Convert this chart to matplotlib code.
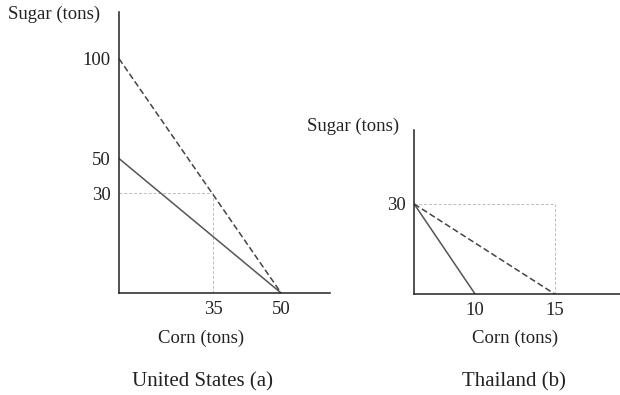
import numpy as np
import matplotlib
matplotlib.use("Agg")
import matplotlib.pyplot as plt

plt.rcParams['font.family'] = ['Liberation Serif', 'DejaVu Serif']

# United States (a): corn (x) vs sugar (y)
us_ppf_corn = [0, 50]
us_ppf_sugar = [50, 0]
us_trade_corn = [0, 50]
us_trade_sugar = [100, 0]
us_point = (35, 30)
us_xticks = [35, 50]
us_yticks = [30, 50, 100]

# Thailand (b)
th_ppf_corn = [0, 10]
th_ppf_sugar = [30, 0]
th_trade_corn = [0, 15]
th_trade_sugar = [30, 0]
th_point = (15, 30)
th_xticks = [10, 15]
th_yticks = [30]

# the original is drawn "not to scale": piecewise scales mimic the sketch
us_x_breaks = ([0, 35, 50, 65], [0, 29, 50, 65])
us_y_breaks = ([0, 30, 50, 100, 120], [0, 42.5, 57.4, 100, 120])
th_x_breaks = ([0, 10, 15, 22], [0, 6.5, 15, 22])


def piecewise(breaks):
    v, d = breaks
    fwd = lambda a: np.interp(a, v, d)
    inv = lambda a: np.interp(a, d, v)
    return fwd, inv


def style(ax, xticks, yticks):
    for s in ['top', 'right']:
        ax.spines[s].set_visible(False)
    for s in ['left', 'bottom']:
        ax.spines[s].set_color('#222222')
        ax.spines[s].set_linewidth(1.1)
    ax.set_xticks(xticks)
    ax.set_yticks(yticks)
    ax.tick_params(length=0, labelsize=13.5, colors='#222222', pad=6)
    ax.set_xlabel('Corn (tons)', fontsize=13.5, color='#222222')


fig = plt.figure(figsize=(6.2, 3.95), dpi=100)

ax1 = fig.add_axes([0.192, 0.258, 0.34, 0.712])
ax1.set_xscale('function', functions=piecewise(us_x_breaks))
ax1.set_yscale('function', functions=piecewise(us_y_breaks))
ax1.set_xlim(0, 65)
ax1.set_ylim(0, 120)
px, py = us_point
ax1.plot([0, px], [py, py], color='#bbbbbb', lw=0.7, ls=(0, (3, 2)))
ax1.plot([px, px], [0, py], color='#bbbbbb', lw=0.7, ls=(0, (3, 2)))
ax1.plot(us_ppf_corn, us_ppf_sugar, color='#555555', lw=1.1)
ax1.plot(us_trade_corn, us_trade_sugar, color='#444444', lw=1.1, ls=(0, (4, 2)))
style(ax1, us_xticks, us_yticks)
ax1.xaxis.set_label_coords(0.39, -0.13)
ax1.text(-0.525, 0.99, 'Sugar (tons)', transform=ax1.transAxes, fontsize=13.5,
         color='#222222', va='center', ha='left')
fig.text(0.326, 0.033, 'United States (a)', fontsize=15, ha='center',
         va='center', color='#222222')

ax2 = fig.add_axes([0.668, 0.256, 0.332, 0.415])
ax2.set_xscale('function', functions=piecewise(th_x_breaks))
ax2.set_xlim(0, 22)
ax2.set_ylim(0, 54.7)
px, py = th_point
ax2.plot([0, px], [py, py], color='#bbbbbb', lw=0.7, ls=(0, (3, 2)))
ax2.plot([px, px], [0, py], color='#bbbbbb', lw=0.7, ls=(0, (3, 2)))
ax2.plot(th_ppf_corn, th_ppf_sugar, color='#555555', lw=1.1)
ax2.plot(th_trade_corn, th_trade_sugar, color='#444444', lw=1.1, ls=(0, (4, 2)))
style(ax2, th_xticks, th_yticks)
ax2.xaxis.set_label_coords(0.49, -0.22)
ax2.text(-0.52, 1.02, 'Sugar (tons)', transform=ax2.transAxes, fontsize=13.5,
         color='#222222', va='center', ha='left')
fig.text(0.829, 0.033, 'Thailand (b)', fontsize=15, ha='center',
         va='center', color='#222222')

fig.savefig('out.png', dpi=100)
